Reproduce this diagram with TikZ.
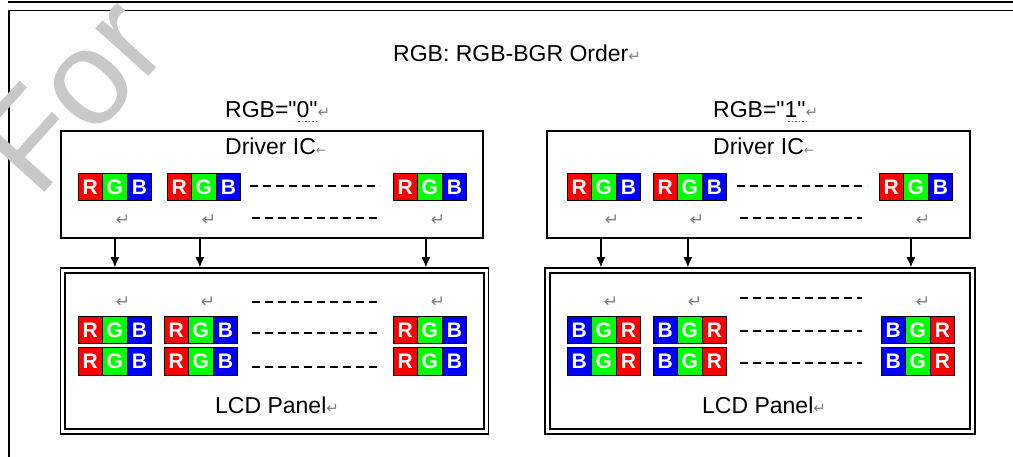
\documentclass[tikz,border=0pt]{standalone}
\usepackage{fontspec}
\newfontfamily\labelfont{Liberation Sans}
\newfontfamily\symfont{DejaVu Sans}
\usetikzlibrary{arrows.meta}
\definecolor{pxred}{RGB}{255,0,0}
\definecolor{pxgreen}{RGB}{0,255,0}
\definecolor{pxblue}{RGB}{0,0,255}
\definecolor{wmgray}{RGB}{200,200,200}
\definecolor{spellpink}{RGB}{230,0,230}
\newcommand{\retmark}{{\symfont\color{gray}\fontsize{15}{15}\selectfont ↵}}
\newcommand{\lmark}{{\symfont\color{gray}\fontsize{12}{12}\selectfont ←}}

\begin{document}
\begin{tikzpicture}[x=1pt,y=-1pt,
  pxcell/.style={draw=black, line width=1pt, minimum width=24.6pt, minimum height=27pt,
    inner sep=0pt, text=white, font=\labelfont\fontsize{21}{21}\selectfont\bfseries},
  rpx/.style={pxcell, fill=pxred},
  gpx/.style={pxcell, fill=pxgreen},
  bpx/.style={pxcell, fill=pxblue},
  txt/.style={font=\labelfont\fontsize{23}{23}\selectfont, inner sep=0pt, anchor=base west},
  retm/.style={font=\symfont\fontsize{17}{17}\selectfont, text=gray, inner sep=0pt},
  icbox/.style={draw=black, line width=1.2pt, minimum width=422pt, minimum height=107pt},
  panelbox/.style={draw=black, line width=1.5pt, minimum width=428pt, minimum height=166pt},
  dashline/.style={dash pattern=on 8pt off 5pt, line width=1.3pt},
  feed/.style={-{Latex[length=10pt,width=9pt]}, line width=1.3pt},
  spell/.style={spellpink, line width=1pt, dash pattern=on 1.5pt off 2pt}
]
\useasboundingbox (0,0) rectangle (1013,457);

% outer frame
\draw[line width=1.2pt] (8,2) -- (1013,2);
\draw[line width=1.2pt] (1013,10.5) -- (9,10.5) -- (9,457);

% titles
\node[txt] (title) at (393,62) {RGB: RGB-BGR Order\retmark};
\node[txt] (selz) at (225,118) {RGB="0"\retmark};
\node[txt] (selo) at (713,118) {RGB="1"\retmark};
\draw[spell] (298,121.5) -- (318,121.5);
\draw[spell] (788,121.5) -- (808,121.5);

% driver IC and LCD panel boxes
\node[icbox] (icl) at (272,184.5) {};
\node[icbox, minimum width=423pt] (icr) at (758.5,184.5) {};
\node[panelbox] (lcdl) at (274.5,351) {};
\node[panelbox, minimum width=430pt] (lcdr) at (760,351) {};
\draw[line width=2.2pt] ([shift={(5.5,5.5)}]lcdl.north west) rectangle ([shift={(-5.5,-5.5)}]lcdl.south east);
\draw[line width=2.2pt] ([shift={(5.5,5.5)}]lcdr.north west) rectangle ([shift={(-5.5,-5.5)}]lcdr.south east);

\node[txt] (icll) at (225,155) {Driver IC\lmark};
\node[txt] (icrl) at (713,155) {Driver IC\lmark};
\node[txt] (lcdll) at (215,413) {LCD Panel\retmark};
\node[txt] (lcdrl) at (702,413) {LCD Panel\retmark};

% driver IC, RGB = 0
\node[rpx] (ia1r) at (90.3,187) {R};
\node[gpx] (ia1g) at (114.9,187) {G};
\node[bpx] (ia1b) at (139.5,187) {B};
\node[rpx] (ia2r) at (179.3,187) {R};
\node[gpx] (ia2g) at (203.9,187) {G};
\node[bpx] (ia2b) at (228.5,187) {B};
\node[rpx] (ia3r) at (405.3,187) {R};
\node[gpx] (ia3g) at (429.9,187) {G};
\node[bpx] (ia3b) at (454.5,187) {B};
\draw[dashline] (250,186) -- (380,186);
\draw[dashline] (252,218) -- (382,218);
\node[retm] (ma1) at (123,220) {↵};
\node[retm] (ma2) at (209,220) {↵};
\node[retm] (ma3) at (438,220) {↵};

% driver IC, RGB = 1
\node[rpx] (ib1r) at (579.3,187) {R};
\node[gpx] (ib1g) at (603.9,187) {G};
\node[bpx] (ib1b) at (628.5,187) {B};
\node[rpx] (ib2r) at (665.3,187) {R};
\node[gpx] (ib2g) at (689.9,187) {G};
\node[bpx] (ib2b) at (714.5,187) {B};
\node[rpx] (ib3r) at (891.3,187) {R};
\node[gpx] (ib3g) at (915.9,187) {G};
\node[bpx] (ib3b) at (940.5,187) {B};
\draw[dashline] (737,186) -- (867,186);
\draw[dashline] (740,218) -- (862,218);
\node[retm] (mb1) at (612,220) {↵};
\node[retm] (mb2) at (697,220) {↵};
\node[retm] (mb3) at (923,220) {↵};

% LCD panel, RGB = 0
\node[retm] (mc1) at (123,302) {↵};
\node[retm] (mc2) at (208,302) {↵};
\node[retm] (mc3) at (438,302) {↵};
\draw[dashline] (252,302) -- (382,302);
\node[rpx] (pa1r) at (90.3,330) {R};
\node[gpx] (pa1g) at (114.9,330) {G};
\node[bpx] (pa1b) at (139.5,330) {B};
\node[rpx] (pa2r) at (176.3,330) {R};
\node[gpx] (pa2g) at (200.9,330) {G};
\node[bpx] (pa2b) at (225.5,330) {B};
\node[rpx] (pa3r) at (405.3,330) {R};
\node[gpx] (pa3g) at (429.9,330) {G};
\node[bpx] (pa3b) at (454.5,330) {B};
\draw[dashline] (252,333) -- (382,333);
\node[rpx] (pa4r) at (90.3,361.5) {R};
\node[gpx] (pa4g) at (114.9,361.5) {G};
\node[bpx] (pa4b) at (139.5,361.5) {B};
\node[rpx] (pa5r) at (176.3,361.5) {R};
\node[gpx] (pa5g) at (200.9,361.5) {G};
\node[bpx] (pa5b) at (225.5,361.5) {B};
\node[rpx] (pa6r) at (405.3,361.5) {R};
\node[gpx] (pa6g) at (429.9,361.5) {G};
\node[bpx] (pa6b) at (454.5,361.5) {B};
\draw[dashline] (252,367) -- (382,367);

% LCD panel, RGB = 1
\node[retm] (md1) at (611,302) {↵};
\node[retm] (md2) at (695,302) {↵};
\node[retm] (md3) at (923,302) {↵};
\draw[dashline] (740,298) -- (862,298);
\node[bpx] (pb1b) at (579.3,330) {B};
\node[gpx] (pb1g) at (603.9,330) {G};
\node[rpx] (pb1r) at (628.5,330) {R};
\node[bpx] (pb2b) at (665.3,330) {B};
\node[gpx] (pb2g) at (689.9,330) {G};
\node[rpx] (pb2r) at (714.5,330) {R};
\node[bpx] (pb3b) at (893.3,330) {B};
\node[gpx] (pb3g) at (917.9,330) {G};
\node[rpx] (pb3r) at (942.5,330) {R};
\draw[dashline] (740,331) -- (862,331);
\node[bpx] (pb4b) at (579.3,361.5) {B};
\node[gpx] (pb4g) at (603.9,361.5) {G};
\node[rpx] (pb4r) at (628.5,361.5) {R};
\node[bpx] (pb5b) at (665.3,361.5) {B};
\node[gpx] (pb5g) at (689.9,361.5) {G};
\node[rpx] (pb5r) at (714.5,361.5) {R};
\node[bpx] (pb6b) at (893.3,361.5) {B};
\node[gpx] (pb6g) at (917.9,361.5) {G};
\node[rpx] (pb6r) at (942.5,361.5) {R};
\draw[dashline] (740,363) -- (862,363);

% IC to panel
\draw[feed] (ia1g |- icl.south) -- (ia1g |- lcdl.north);
\draw[feed] ([xshift=-4pt]ia2g.center |- icl.south) -- ([xshift=-4pt]ia2g.center |- lcdl.north);
\draw[feed] ([xshift=-4pt]ia3g.center |- icl.south) -- ([xshift=-4pt]ia3g.center |- lcdl.north);
\draw[feed] ([xshift=-3pt]ib1g.center |- icr.south) -- ([xshift=-3pt]ib1g.center |- lcdr.north);
\draw[feed] ([xshift=-2pt]ib2g.center |- icr.south) -- ([xshift=-2pt]ib2g.center |- lcdr.north);
\draw[feed] ([xshift=-5pt]ib3g.center |- icr.south) -- ([xshift=-5pt]ib3g.center |- lcdr.north);

% watermark
\node[anchor=base west, rotate=48, inner sep=0pt, text=wmgray,
  font=\labelfont\fontsize{135}{135}\selectfont] (wm) at (37,201) {For};
\end{tikzpicture}
\end{document}
